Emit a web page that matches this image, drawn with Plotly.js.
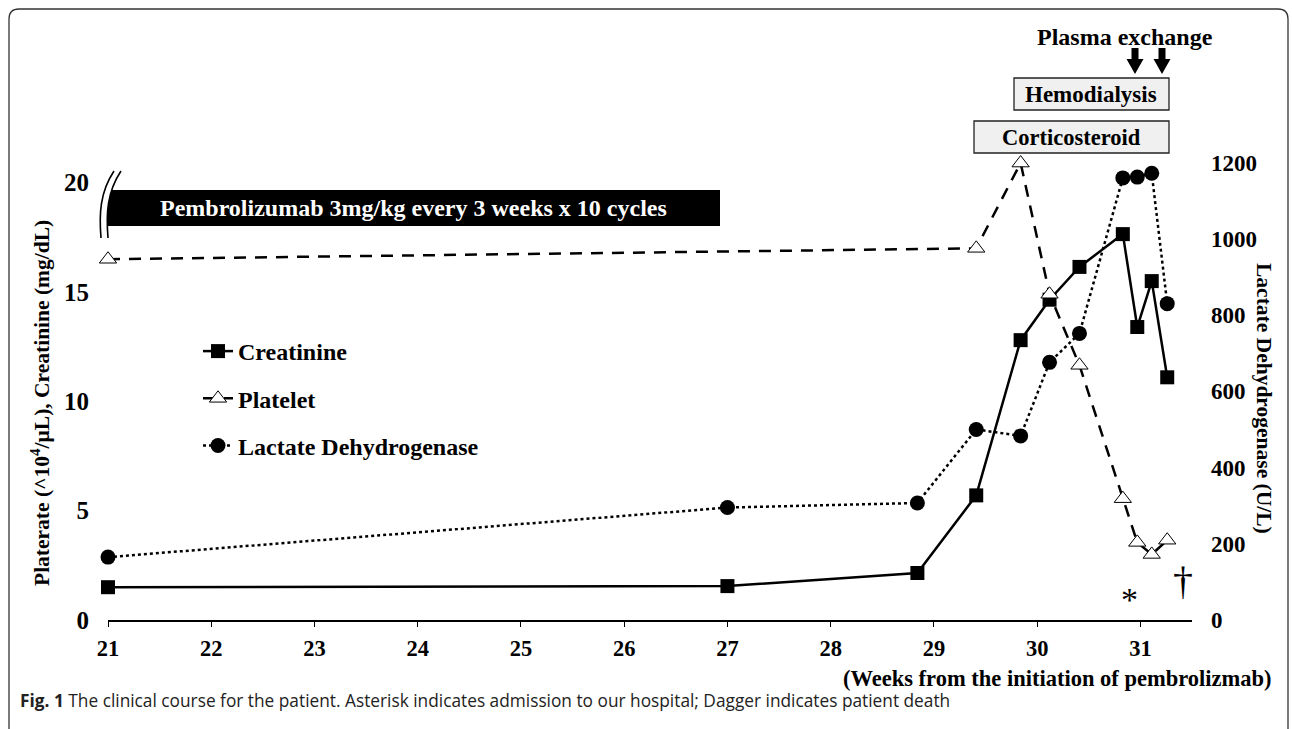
<!DOCTYPE html>
<html><head><meta charset="utf-8">
<script src="https://cdn.plot.ly/plotly-3.0.1.min.js"></script>
<style>html,body{margin:0;padding:0;background:#fff}#chart{width:1292px;height:729px}</style>
</head><body><div id="chart"></div>
<script>
// ---- data ----
const creatinineWeeks = [21, 27, 28.84, 29.41, 29.84, 30.12, 30.41, 30.83, 30.97, 31.11, 31.26];
const creatinine      = [1.5, 1.55, 2.15, 5.7, 12.8, 14.65, 16.15, 17.65, 13.4, 15.5, 11.1];
const plateletWeeks   = [21, 29.41, 29.84, 30.12, 30.41, 30.83, 30.97, 31.11, 31.26];
const platelet        = [16.5, 17.0, 20.9, 14.9, 11.65, 5.55, 3.55, 3.0, 3.65];
const ldhWeeks        = [21, 27, 28.84, 29.41, 29.84, 30.12, 30.41, 30.83, 30.97, 31.11, 31.26];
const ldh             = [165, 295, 307, 500, 483, 676, 752, 1160, 1162, 1172, 830];
const xTicks     = [21, 22, 23, 24, 25, 26, 27, 28, 29, 30, 31];
const leftTicks  = [0, 5, 10, 15, 20];
const rightTicks = [0, 200, 400, 600, 800, 1000, 1200];
const seriesNames = ['Creatinine', 'Platelet', 'Lactate Dehydrogenase'];
const admissionWeek = 30.89;
const deathWeek = 31.41;

// ---- geometry helpers (pixel -> paper) ----
const ML = 108, MT = 139, PW = 1084, PH = 481, MR = 1292 - ML - PW, MB = 729 - MT - PH;
const px = x => (x - ML) / PW;
const py = y => (MT + PH - y) / PH;
function path(cmds) {
  return cmds.map(c => c[0] + ' ' + c.slice(1).map((v, i) => (i % 2 === 0 ? px(v) : py(v)).toFixed(5)).join(',')).join(' ');
}

const serif = 'Liberation Serif, Times New Roman, serif';
const bf = (size, color) => ({family: serif, weight: 700, size: size, color: color || '#000'});

const traces = [
  {x: creatinineWeeks, y: creatinine, name: seriesNames[0], legendgroup: 'a', mode: 'lines+markers',
   line: {color: '#000', width: 2.5}, marker: {symbol: 'square', size: 14, color: '#000'}, cliponaxis: false},
  {x: plateletWeeks, y: platelet, name: seriesNames[1], legendgroup: 'b', mode: 'lines+markers',
   line: {color: '#000', width: 2.5, dash: '12px,9px'},
   marker: {symbol: 'triangle-up', size: 15, color: '#fff', line: {color: '#000', width: 1}}, cliponaxis: false},
  {x: ldhWeeks, y: ldh, name: seriesNames[2], legendgroup: 'c', yaxis: 'y2', mode: 'lines+markers',
   line: {color: '#000', width: 2.5, dash: 'dot'}, marker: {symbol: 'circle', size: 15, color: '#000'}, cliponaxis: false}
];

const shapes = [
  {type: 'path', xref: 'paper', yref: 'paper', line: {color: '#333', width: 1.3},
   path: path([['M', 9, 729], ['L', 9, 19], ['Q', 9, 9, 19, 9], ['L', 1278, 9], ['Q', 1288, 9, 1288, 19], ['L', 1288, 729]])},
  {type: 'rect', xref: 'paper', yref: 'paper', x0: px(106), x1: px(720), y0: py(226), y1: py(190),
   fillcolor: '#000', line: {width: 0}},
  {type: 'path', xref: 'paper', yref: 'paper', fillcolor: '#fff', line: {width: 0},
   path: path([['M', 114, 171], ['C', 100, 192, 99, 214, 101, 238], ['L', 108, 238], ['C', 106, 214, 107, 192, 121, 171], ['Z']])},
  {type: 'path', xref: 'paper', yref: 'paper', line: {color: '#000', width: 1.6},
   path: path([['M', 114, 171], ['C', 100, 192, 99, 214, 101, 238]])},
  {type: 'path', xref: 'paper', yref: 'paper', line: {color: '#000', width: 1.6},
   path: path([['M', 121, 171], ['C', 107, 192, 106, 214, 108, 238]])},
  {type: 'rect', xref: 'paper', yref: 'paper', x0: px(974), x1: px(1169), y0: py(153), y1: py(121),
   fillcolor: '#f0f0f0', line: {color: '#222', width: 1.3}},
  {type: 'rect', xref: 'paper', yref: 'paper', x0: px(1014), x1: px(1169), y0: py(110), y1: py(78),
   fillcolor: '#f0f0f0', line: {color: '#222', width: 1.3}},
];
[1135, 1162].forEach(cx => {
  shapes.push({type: 'path', xref: 'paper', yref: 'paper', fillcolor: '#000', line: {width: 0},
    path: path([['M', cx - 3.5, 48], ['L', cx + 3.5, 48], ['L', cx + 3.5, 59], ['L', cx + 8.5, 59], ['L', cx, 74],
                ['L', cx - 8.5, 59], ['L', cx - 3.5, 59], ['Z']])});
});

function ann(o) { return Object.assign({xref: 'paper', yref: 'paper', showarrow: false, xanchor: 'center', yanchor: 'middle'}, o); }
const annotations = [
  ann({x: px(413), y: py(208), text: 'Pembrolizumab 3mg/kg every 3 weeks x 10 cycles', font: bf(24, '#fff')}),
  ann({x: px(1071), y: py(137), text: 'Corticosteroid', font: bf(22.5)}),
  ann({x: px(1091), y: py(94), text: 'Hemodialysis', font: bf(23)}),
  ann({x: px(1125), y: py(37), text: 'Plasma exchange', font: bf(24)}),
  ann({xref: 'x', x: admissionWeek, y: py(599), text: '*', font: {family: serif, weight: 400, size: 34, color: '#000'}}),
  ann({xref: 'x', x: deathWeek, y: py(580), text: '†', font: {family: serif, weight: 400, size: 40, color: '#000'}}),
  ann({x: px(40), y: py(403), textangle: -90, text: 'Platerate (^10<sup>4</sup>/μL), Creatinine (mg/dL)', font: bf(21.5)}),
  ann({x: px(1264), y: py(398), textangle: 90, text: 'Lactate Dehydrogenase (U/L)', font: bf(21.5)}),
  ann({x: px(1274), y: py(678), xanchor: 'right', text: '(Weeks from the initiation of pembrolizmab)', font: bf(22.5)}),
  ann({x: px(18), y: py(700), xanchor: 'left',
   text: '<b>Fig. 1</b> The clinical course for the patient. Asterisk indicates admission to our hospital; Dagger indicates patient death',
   font: {family: 'Open Sans, sans-serif', weight: 400, size: 17.3, color: '#222'}})
];

const layout = {
  width: 1292, height: 729,
  margin: {l: ML, r: MR, t: MT, b: MB, pad: 0},
  paper_bgcolor: '#fff', plot_bgcolor: '#fff',
  font: {family: serif, color: '#000'},
  showlegend: true,
  legend: {x: px(198), y: py(329), xanchor: 'left', yanchor: 'top', bgcolor: 'rgba(0,0,0,0)',
           font: bf(24), itemwidth: 30, tracegroupgap: 13},
  xaxis: {range: [21, 31.5], tickvals: xTicks, ticktext: xTicks.map(String), showgrid: false, zeroline: false,
          showline: true, linecolor: '#000', linewidth: 1.5, ticks: 'outside', ticklen: 5, tickcolor: '#000',
          ticklabelstandoff: 2, tickfont: bf(22.5), fixedrange: true},
  yaxis: {range: [0, 22], tickvals: leftTicks, ticktext: leftTicks.map(String), showgrid: false, zeroline: false,
          showline: false, ticks: '', ticklabelstandoff: 18, tickfont: bf(25)},
  yaxis2: {range: [0, 1262], overlaying: 'y', side: 'right', tickvals: rightTicks, ticktext: rightTicks.map(String),
           showgrid: false, zeroline: false, showline: false, ticks: '', ticklabelstandoff: 18, tickfont: bf(23)},
  shapes: shapes,
  annotations: annotations
};

Plotly.newPlot('chart', traces, layout, {displayModeBar: false, staticPlot: true});
</script>
</body></html>
